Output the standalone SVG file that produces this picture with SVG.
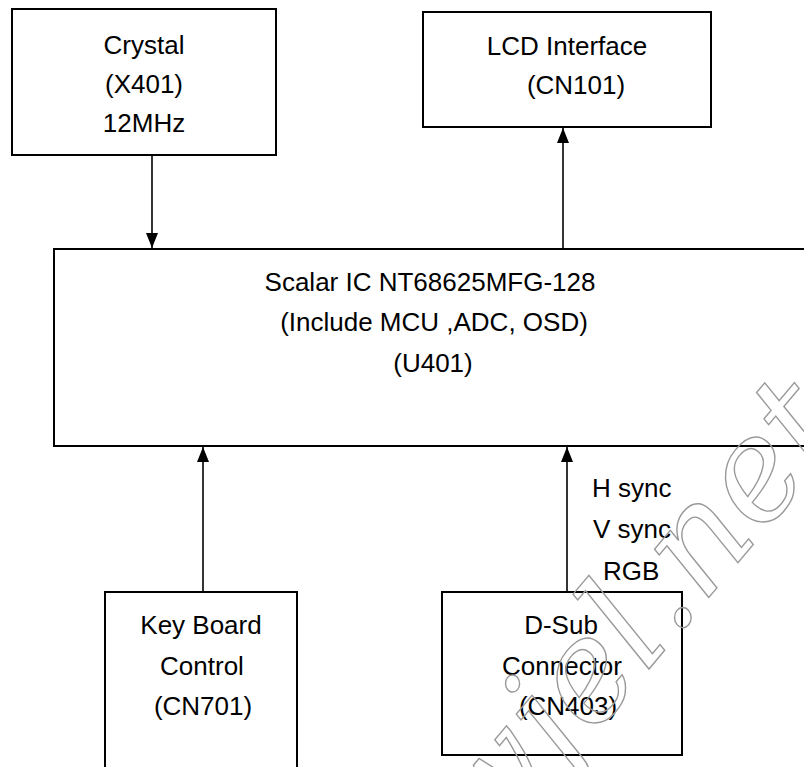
<svg xmlns="http://www.w3.org/2000/svg" width="804" height="767" viewBox="0 0 804 767">
<style>
.box{fill:#fff;stroke:#000;stroke-width:2}
.t{font-family:"Liberation Sans",Arial,sans-serif;font-size:26px;fill:#000}
.c{text-anchor:middle}
.edge{stroke:#000;stroke-width:1.6;fill:none;marker-end:url(#arr)}
.wm{font-family:"DejaVu Serif",serif;font-style:italic;font-size:140px;fill:none;stroke:#9a9a9a;stroke-width:1.4}
</style>
<defs>
<marker id="arr" markerUnits="userSpaceOnUse" markerWidth="15" markerHeight="12" refX="15" refY="6" orient="auto" viewBox="0 0 15 12">
<path d="M0,0 L15,6 L0,12 z" fill="#000"/>
</marker>
</defs>
<rect width="804" height="767" fill="#fff"/>
<g id="crystal">
<rect class="box" x="12" y="9" width="264" height="146"/>
<text class="t c" x="144" y="54">Crystal</text>
<text class="t c" x="144" y="93">(X401)</text>
<text class="t c" x="144" y="132">12MHz</text>
</g>
<g id="lcd">
<rect class="box" x="423" y="12" width="288" height="115"/>
<text class="t c" x="567" y="55">LCD Interface</text>
<text class="t c" x="576" y="94">(CN101)</text>
</g>
<g id="scalar">
<rect class="box" x="54" y="249" width="760" height="197"/>
<text class="t c" x="430" y="291">Scalar IC NT68625MFG-128</text>
<text class="t c" x="434" y="331">(Include MCU ,ADC, OSD)</text>
<text class="t c" x="433" y="372">(U401)</text>
</g>
<g id="keyboard">
<rect class="box" x="105" y="592" width="192" height="200"/>
<text class="t c" x="201" y="634">Key Board</text>
<text class="t c" x="202" y="675">Control</text>
<text class="t c" x="203" y="715">(CN701)</text>
</g>
<g id="dsub">
<rect class="box" x="442" y="592" width="240" height="163"/>
<text class="t c" x="561" y="634">D-Sub</text>
<text class="t c" x="562" y="675">Connector</text>
<text class="t c" x="568" y="715">(CN403)</text>
</g>
<g id="connectors">
<line class="edge" x1="152" y1="155" x2="152" y2="248"/>
<line class="edge" x1="563" y1="249" x2="563" y2="128"/>
<line class="edge" x1="203" y1="592" x2="203" y2="447"/>
<line class="edge" x1="567" y1="592" x2="567" y2="447"/>
<text class="t" x="592" y="497">H sync</text>
<text class="t" x="593" y="538">V sync</text>
<text class="t" x="603" y="580">RGB</text>
</g>
<g id="watermark">
<text class="wm" transform="translate(487,862) rotate(-50)">wjel.net</text>
</g>
</svg>
